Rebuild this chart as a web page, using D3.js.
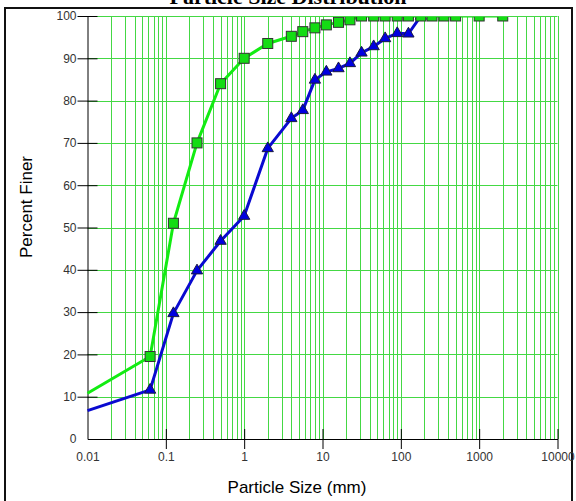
<!DOCTYPE html>
<html>
<head>
<meta charset="utf-8">
<script src="https://cdn.jsdelivr.net/npm/d3@7"></script>
<style>
  html, body { margin: 0; padding: 0; background: #fff; }
  svg { display: block; }
</style>
</head>
<body>
<svg id="chart" width="576" height="501"></svg>
<script>
// ---- data ----
const title = "Particle Size Distribution";
const xLabel = "Particle Size (mm)";
const yLabel = "Percent Finer";

const fineSizes = [0.01, 0.063, 0.125, 0.25, 0.5, 1, 2, 4, 5.6, 8, 11.2, 16, 22.4, 31.5, 45, 63, 90, 125, 180, 250, 355, 500, 1000, 2000];
const fineValues = [10.8, 19.5, 51, 70, 84, 90, 93.5, 95.2, 96.3, 97.2, 97.9, 98.5, 99.1, 100, 100, 100, 100, 100, 100, 100, 100, 100, 100, 100];

const coarseSizes = [0.01, 0.063, 0.125, 0.25, 0.5, 1, 2, 4, 5.6, 8, 11.2, 16, 22.4, 31.5, 45, 63, 90, 125, 180];
const coarseValues = [6.7, 11.6, 29.7, 39.8, 46.8, 52.7, 68.7, 75.8, 77.7, 84.9, 86.8, 87.6, 88.8, 91.3, 92.8, 94.7, 95.9, 95.8, 100];

const xTicks = [0.01, 0.1, 1, 10, 100, 1000, 10000];
const xTickLabels = ["0.01", "0.1", "1", "10", "100", "1000", "10000"];
const yTicks = [0, 10, 20, 30, 40, 50, 60, 70, 80, 90, 100];

// ---- layout ----
const svg = d3.select("#chart");
const L = 87.5, R = 557.5, T = 16, B = 439;
const x = d3.scaleLog().domain([0.01, 10000]).range([L, R]);
const y = d3.scaleLinear().domain([0, 100]).range([B, T]);

// frame
svg.append("rect").attr("x", 5).attr("y", 8).attr("width", 567).attr("height", 500)
  .attr("fill", "none").attr("stroke", "#111").attr("stroke-width", 2);

// title (mostly cut off at top, as in the original)
svg.append("text").attr("x", 288).attr("y", 4).attr("text-anchor", "middle")
  .attr("font-family", "Liberation Serif, Times New Roman, serif").attr("font-weight", "bold")
  .attr("font-size", 22).attr("fill", "#000").text(title);

// grid
const gridColor = "#44d844";
const minor = [];
for (let e = -2; e <= 3; e++) {
  for (let k = 1; k <= 9; k++) {
    const v = k * Math.pow(10, e);
    if (v > 0.0100001) minor.push(v);
  }
}
minor.push(10000);
const g = svg.append("g");
g.selectAll("line.vg").data(minor).join("line")
  .attr("x1", d => Math.round(x(d)) + 0.5).attr("x2", d => Math.round(x(d)) + 0.5)
  .attr("y1", T).attr("y2", B)
  .attr("stroke", gridColor).attr("stroke-width", 1);
g.selectAll("line.hg").data(yTicks.filter(d => d > 0)).join("line")
  .attr("x1", L).attr("x2", R)
  .attr("y1", d => Math.round(y(d)) + 0.5).attr("y2", d => Math.round(y(d)) + 0.5)
  .attr("stroke", gridColor).attr("stroke-width", 1);

// axes
const yAxis = d3.axisLeft(y).tickValues(yTicks).tickSize(0).tickPadding(11);
const ya = svg.append("g").attr("transform", `translate(${L},0)`).call(yAxis);
ya.select(".domain").attr("stroke", "#000");
ya.selectAll("text").attr("font-family", "Liberation Sans, Arial, sans-serif").attr("font-size", 12).attr("fill", "#333");
ya.selectAll(".tick").filter(d => d > 0).append("line")
  .attr("x1", -10).attr("x2", 10).attr("stroke", "#000").attr("stroke-width", 1);

const xAxis = d3.axisBottom(x).tickValues(xTicks).tickFormat((d, i) => xTickLabels[i]).tickSize(0).tickPadding(13);
const xa = svg.append("g").attr("transform", `translate(0,${B})`).call(xAxis);
xa.select(".domain").attr("stroke", "#000");
xa.selectAll("text").attr("font-family", "Liberation Sans, Arial, sans-serif").attr("font-size", 12).attr("fill", "#333");
xa.selectAll(".tick").filter(d => d > 0.01).append("line")
  .attr("y1", -10).attr("y2", 10).attr("stroke", "#000").attr("stroke-width", 1);

// axis titles
svg.append("text").attr("x", 297).attr("y", 493).attr("text-anchor", "middle")
  .attr("font-family", "Liberation Sans, Arial, sans-serif").attr("font-size", 17).attr("fill", "#000").text(xLabel);
svg.append("text").attr("transform", "translate(32,207) rotate(-90)").attr("text-anchor", "middle")
  .attr("font-family", "Liberation Sans, Arial, sans-serif").attr("font-size", 17).attr("fill", "#000").text(yLabel);

// clip
svg.append("clipPath").attr("id", "plotclip").append("rect")
  .attr("x", L - 6).attr("y", T + 1).attr("width", R - L + 12).attr("height", B - T + 10);
const plot = svg.append("g").attr("clip-path", "url(#plotclip)");

const coarse = coarseSizes.map((s, i) => ({ s, v: coarseValues[i], i }));
const fine = fineSizes.map((s, i) => ({ s, v: fineValues[i], i }));

// blue series
plot.append("path").datum(coarse)
  .attr("d", d3.line().x(d => x(d.s)).y(d => y(d.v)))
  .attr("fill", "none").attr("stroke", "#0a0ad0").attr("stroke-width", 3).attr("stroke-linejoin", "round");
const tri = d3.symbol().type(d3.symbolTriangle).size(55);
plot.selectAll("path.tri").data(coarse.filter(d => d.i > 0)).join("path")
  .attr("transform", d => `translate(${x(d.s)},${y(d.v)})`)
  .attr("d", tri).attr("fill", "#0000e0").attr("stroke", "#1a1a40").attr("stroke-width", 1);

// green series
plot.append("path").datum(fine)
  .attr("d", d3.line().x(d => x(d.s)).y(d => y(d.v)))
  .attr("fill", "none").attr("stroke", "#12ec12").attr("stroke-width", 3).attr("stroke-linejoin", "round");
plot.selectAll("rect.sq").data(fine.filter(d => d.i > 0)).join("rect")
  .attr("x", d => x(d.s) - 5).attr("y", d => y(d.v) - 5).attr("width", 10).attr("height", 10)
  .attr("fill", "#14dc14").attr("stroke", "#333").attr("stroke-width", 1);
</script>
</body>
</html>
